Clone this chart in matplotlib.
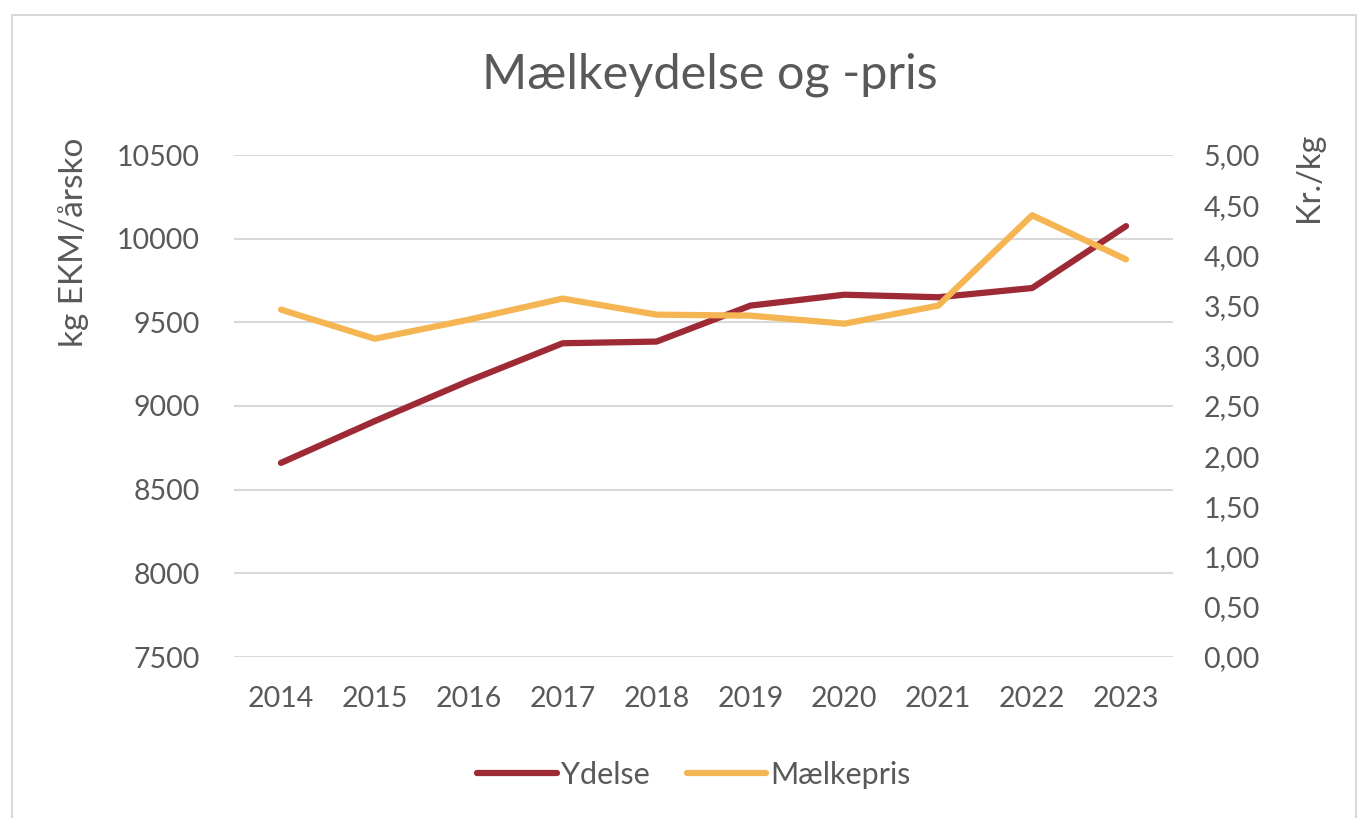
import matplotlib.pyplot as plt
import matplotlib.patches as patches
from matplotlib.ticker import FuncFormatter

years = [2014, 2015, 2016, 2017, 2018, 2019, 2020, 2021, 2022, 2023]
ydelse = [8660, 8910, 9150, 9375, 9385, 9600, 9665, 9650, 9705, 10075]
maelkepris = [3.46, 3.17, 3.36, 3.57, 3.41, 3.40, 3.32, 3.50, 4.40, 3.96]

red = '#9E2A35'
orange = '#F5B553'
grey = '#595959'

plt.rcParams['font.family'] = ['Lato', 'DejaVu Sans']

fig = plt.figure(figsize=(13.59, 8.18), dpi=100)
# light frame round the chart
fig.patches.append(patches.Rectangle((12 / 1359, -0.01), 1344 / 1359, 1 - 15 / 818 + 0.01,
                                     transform=fig.transFigure, fill=False,
                                     edgecolor='#D9D9D9', linewidth=1.5))

ax = fig.add_axes([234 / 1359, 1 - 657 / 818, 939 / 1359, 502 / 818])
ax2 = ax.twinx()

x = list(range(len(years)))
l1, = ax.plot(x, ydelse, color=red, linewidth=4.5, solid_capstyle='round', label='Ydelse', zorder=3)
l2, = ax2.plot(x, maelkepris, color=orange, linewidth=4.5, solid_capstyle='round', label='Mælkepris', zorder=3)

ax.set_xlim(-0.5, len(years) - 0.5)
ax.set_ylim(7500, 10500)
ax.set_yticks(range(7500, 10501, 500))
ax2.set_ylim(0, 5)
ax2.set_yticks([i * 0.5 for i in range(11)])
ax2.yaxis.set_major_formatter(FuncFormatter(lambda v, p: f'{v:.2f}'.replace('.', ',')))
ax.set_xticks(x)
ax.set_xticklabels([str(y) for y in years])

ax.grid(axis='y', color='#D9D9D9', linewidth=1.5)
ax.set_axisbelow(True)
for a in (ax, ax2):
    for s in a.spines.values():
        s.set_visible(False)
    a.tick_params(length=0, labelsize=20.5, labelcolor=grey)
ax.tick_params(axis='y', pad=24.5)
ax2.tick_params(axis='y', pad=22)
ax.tick_params(axis='x', pad=21)

ax.set_ylabel('kg EKM/årsko', fontsize=24, color=grey)
ax.yaxis.set_label_coords(-0.154, 0.827)
ax2.set_ylabel('Kr./kg', fontsize=23.5, color=grey)
ax2.yaxis.set_label_coords(1.129, 0.955)

fig.text(710 / 1359, 1 - 75 / 818, 'Mælkeydelse og -pris', fontsize=35, color=grey,
         ha='center', va='center')

fig.legend(handles=[l1, l2], loc='center', bbox_to_anchor=(694 / 1359, 1 - 775 / 818),
           ncol=2, frameon=False, fontsize=22, labelcolor=grey,
           handlelength=2.6, handletextpad=0.15, columnspacing=1.2)

plt.savefig('out.png', dpi=100)
